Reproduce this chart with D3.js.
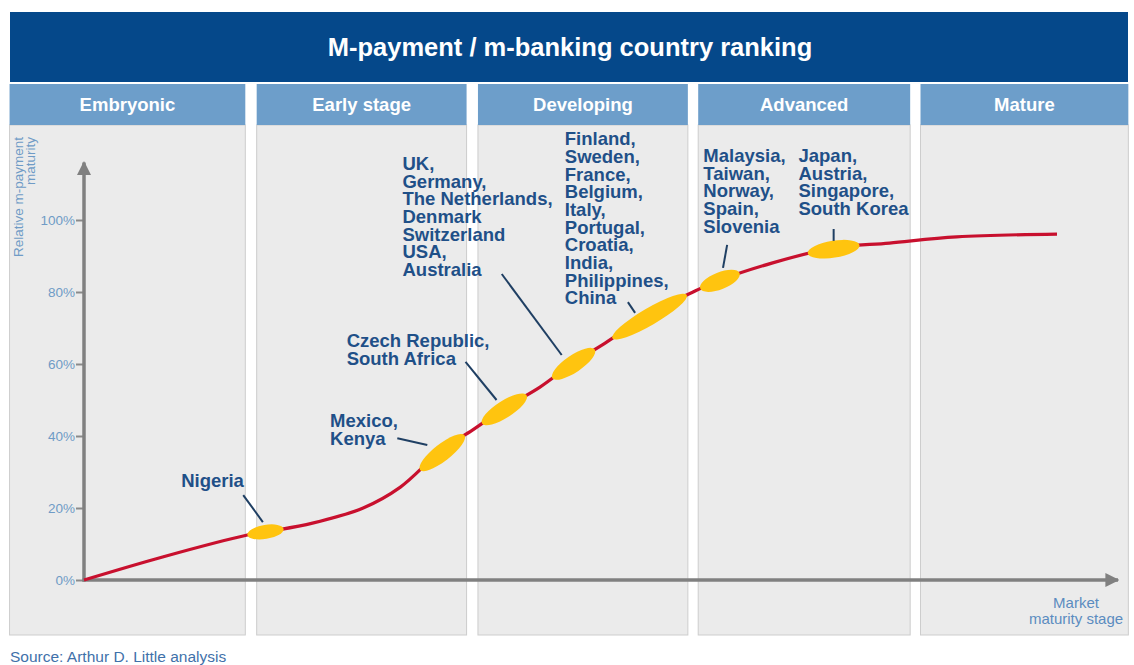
<!DOCTYPE html>
<html>
<head>
<meta charset="utf-8">
<script src="https://cdn.jsdelivr.net/npm/d3@7"></script>
<style>
  body { margin: 0; background: #fff; }
  svg text { font-family: "Liberation Sans", Arial, sans-serif; }
</style>
</head>
<body>
<div class="chart"></div>
<script>
// stages along the market maturity axis (x in maturity units 0-100)
var stages = ["Embryonic", "Early stage", "Developing", "Advanced", "Mature"];
var stageStart = [-7.2, 16.7, 38.1, 59.4, 80.9];
var stageEnd = [15.6, 37.0, 58.4, 79.9, 101];

// the maturity curve
var curveX = [0, 7.6, 15.8, 18.1, 22.1, 27.0, 30.6, 34.6, 37.6, 40.7, 44.1, 47.3, 50.4, 54.5, 58.9, 61.5, 66.6, 72.4, 77.9, 84.4, 94.1];
var curveY = [0, 6.4, 12.5, 13.6, 15.8, 20.0, 25.8, 36.1, 41.7, 47.8, 53.6, 60.3, 65.8, 73.6, 80.0, 83.3, 88.1, 92.2, 93.6, 95.3, 96.1];

var yTicks = [0, 20, 40, 60, 80, 100];

// country groups and where they sit on the curve
var groups = [
  ["Nigeria"],
  ["Mexico,", "Kenya"],
  ["Czech Republic,", "South Africa"],
  ["UK,", "Germany,", "The Netherlands,", "Denmark", "Switzerland", "USA,", "Australia"],
  ["Finland,", "Sweden,", "France,", "Belgium,", "Italy,", "Portugal,", "Croatia,", "India,", "Philippines,", "China"],
  ["Malaysia,", "Taiwan,", "Norway,", "Spain,", "Slovenia"],
  ["Japan,", "Austria,", "Singapore,", "South Korea"]
];
var groupFrom = [15.8, 32.5, 38.5, 45.3, 51.1, 59.6, 70.0];
var groupTo = [19.3, 36.8, 42.8, 49.4, 58.3, 63.4, 75.0];

// annotation layout (in chart units): label anchor, leader start, leader end
var notes = [
  {tx: 9.4, ty: 25.8, x1: 15.4, y1: 23.6, x2: 17.3, y2: 16.1},
  {tx: 23.8, ty: 42.5, x1: 30.3, y1: 39.4, x2: 33.2, y2: 37.5},
  {tx: 25.4, ty: 64.7, x1: 36.9, y1: 60.6, x2: 39.9, y2: 50.0},
  {tx: 30.8, ty: 113.9, x1: 40.4, y1: 85.0, x2: 46.2, y2: 62.5},
  {tx: 46.5, ty: 120.8, x1: 52.6, y1: 77.2, x2: 53.3, y2: 74.2},
  {tx: 59.9, ty: 116.1, x1: 62.2, y1: 93.1, x2: 61.8, y2: 86.7},
  {tx: 69.1, ty: 116.1, x1: 72.5, y1: 97.5, x2: 72.5, y2: 94.2}
];

var svgWidth = 1134;
var svgHeight = 665;

var svg = d3.select(".chart")
  .append("svg")
  .attr("width", svgWidth)
  .attr("height", svgHeight);

var x = d3.scaleLinear().domain([0, 100]).range([84, 1118]);
var y = d3.scaleLinear().domain([0, 100]).range([580, 220]);

// title bar
svg.append("rect")
  .attr("x", 10).attr("y", 12)
  .attr("width", 1118).attr("height", 70)
  .attr("fill", "#05488a");
svg.append("text")
  .attr("x", 570).attr("y", 56)
  .attr("text-anchor", "middle")
  .attr("fill", "#fff")
  .attr("font-size", 25.5)
  .attr("font-weight", "bold")
  .text("M-payment / m-banking country ranking");

// stage panels
var panel = svg.selectAll("g.stage")
  .data(stages)
  .enter()
  .append("g")
  .attr("class", "stage");

panel.append("rect")
  .attr("x", function(d, i) { return x(stageStart[i]); })
  .attr("y", 125)
  .attr("width", function(d, i) { return x(stageEnd[i]) - x(stageStart[i]); })
  .attr("height", 510)
  .attr("fill", "#ebebeb")
  .attr("stroke", "#cdcdcd");

panel.append("rect")
  .attr("x", function(d, i) { return x(stageStart[i]); })
  .attr("y", 84)
  .attr("width", function(d, i) { return x(stageEnd[i]) - x(stageStart[i]); })
  .attr("height", 41)
  .attr("fill", "#6d9eca");

panel.append("text")
  .attr("x", function(d, i) { return (x(stageStart[i]) + x(stageEnd[i])) / 2; })
  .attr("y", 111)
  .attr("text-anchor", "middle")
  .attr("fill", "#fff")
  .attr("font-size", 18.5)
  .attr("font-weight", "bold")
  .text(function(d) { return d; });

// arrow heads
svg.append("defs").append("marker")
  .attr("id", "arrow")
  .attr("viewBox", "0 0 10 10")
  .attr("refX", 9).attr("refY", 5)
  .attr("markerWidth", 4).attr("markerHeight", 4)
  .attr("markerUnits", "strokeWidth")
  .attr("orient", "auto")
  .append("path")
  .attr("d", "M0,0L10,5L0,10z")
  .attr("fill", "#808080");

// y axis ticks
var yAxis = svg.append("g")
  .attr("transform", "translate(" + x(0) + ",0)")
  .call(d3.axisLeft(y).tickValues(yTicks).tickFormat(function(d) { return d + "%"; }).tickSize(8).tickPadding(1));
yAxis.select(".domain").remove();
yAxis.selectAll(".tick line").attr("stroke", "#8a8a8a").attr("stroke-width", 2);
yAxis.selectAll(".tick text")
  .attr("fill", "#6f9bc6")
  .attr("font-size", 13.5)
  .attr("font-family", "Liberation Sans, Arial, sans-serif");

// axis lines
svg.append("line")
  .attr("x1", x(0)).attr("y1", y(0) + 1.5)
  .attr("x2", x(0)).attr("y2", y(116))
  .attr("stroke", "#808080").attr("stroke-width", 3.5)
  .attr("marker-end", "url(#arrow)");
svg.append("line")
  .attr("x1", x(0) - 1.5).attr("y1", y(0))
  .attr("x2", x(100)).attr("y2", y(0))
  .attr("stroke", "#808080").attr("stroke-width", 3.5)
  .attr("marker-end", "url(#arrow)");

// axis titles
var yTitle = svg.append("text")
  .attr("transform", "translate(23,137) rotate(-90)")
  .attr("text-anchor", "end")
  .attr("fill", "#6f9bc6")
  .attr("font-size", 13.5);
yTitle.append("tspan").attr("x", 0).attr("y", 0).text("Relative m-payment");
yTitle.append("tspan").attr("x", 0).attr("y", 12).text("maturity");

var xTitle = svg.append("text")
  .attr("text-anchor", "middle")
  .attr("fill", "#5b8cc0")
  .attr("font-size", 15);
xTitle.append("tspan").attr("x", 1076).attr("y", 608).text("Market");
xTitle.append("tspan").attr("x", 1076).attr("y", 624).text("maturity stage");

// maturity curve
var line = d3.line()
  .x(function(d, i) { return x(curveX[i]); })
  .y(function(d, i) { return y(curveY[i]); })
  .curve(d3.curveCatmullRom.alpha(0.5));

var path = svg.append("path")
  .datum(curveX)
  .attr("d", line)
  .attr("fill", "none")
  .attr("stroke", "#c8102e")
  .attr("stroke-width", 3.2);

// find the curve point for a given x value
var node = path.node();
var total = node.getTotalLength();
function pointAt(v) {
  var px = x(v), lo = 0, hi = total, p;
  for (var k = 0; k < 30; k++) {
    var mid = (lo + hi) / 2;
    p = node.getPointAtLength(mid);
    if (p.x < px) lo = mid; else hi = mid;
  }
  return p;
}

// country clusters
svg.selectAll("ellipse")
  .data(groups)
  .enter()
  .append("ellipse")
  .each(function(d, i) {
    var a = pointAt(groupFrom[i]), b = pointAt(groupTo[i]);
    var cx = (a.x + b.x) / 2, cy = (a.y + b.y) / 2;
    var len = Math.sqrt((b.x - a.x) * (b.x - a.x) + (b.y - a.y) * (b.y - a.y));
    var ang = Math.atan2(b.y - a.y, b.x - a.x) * 180 / Math.PI;
    d3.select(this)
      .attr("cx", 0).attr("cy", 0)
      .attr("rx", len / 2)
      .attr("ry", i == 0 ? 7 : 8.5)
      .attr("transform", "translate(" + cx + "," + cy + ") rotate(" + ang + ")");
  })
  .attr("fill", "#ffc40f");

// leader lines
svg.selectAll("line.leader")
  .data(notes)
  .enter()
  .append("line")
  .attr("class", "leader")
  .attr("x1", function(d) { return x(d.x1); })
  .attr("y1", function(d) { return y(d.y1); })
  .attr("x2", function(d) { return x(d.x2); })
  .attr("y2", function(d) { return y(d.y2); })
  .attr("stroke", "#1f3f63")
  .attr("stroke-width", 2);

// country labels
var labels = svg.selectAll("text.country")
  .data(groups)
  .enter()
  .append("text")
  .attr("class", "country")
  .attr("fill", "#1f5088")
  .attr("font-size", 18.5)
  .attr("font-weight", "bold");

labels.each(function(d, i) {
  var t = d3.select(this);
  d.forEach(function(name, j) {
    t.append("tspan")
      .attr("x", x(notes[i].tx))
      .attr("y", y(notes[i].ty) + j * 17.7)
      .text(name);
  });
});

// source
svg.append("text")
  .attr("x", 10).attr("y", 662)
  .attr("fill", "#3f71aa")
  .attr("font-size", 15.5)
  .text("Source: Arthur D. Little analysis");
</script>
</body>
</html>
